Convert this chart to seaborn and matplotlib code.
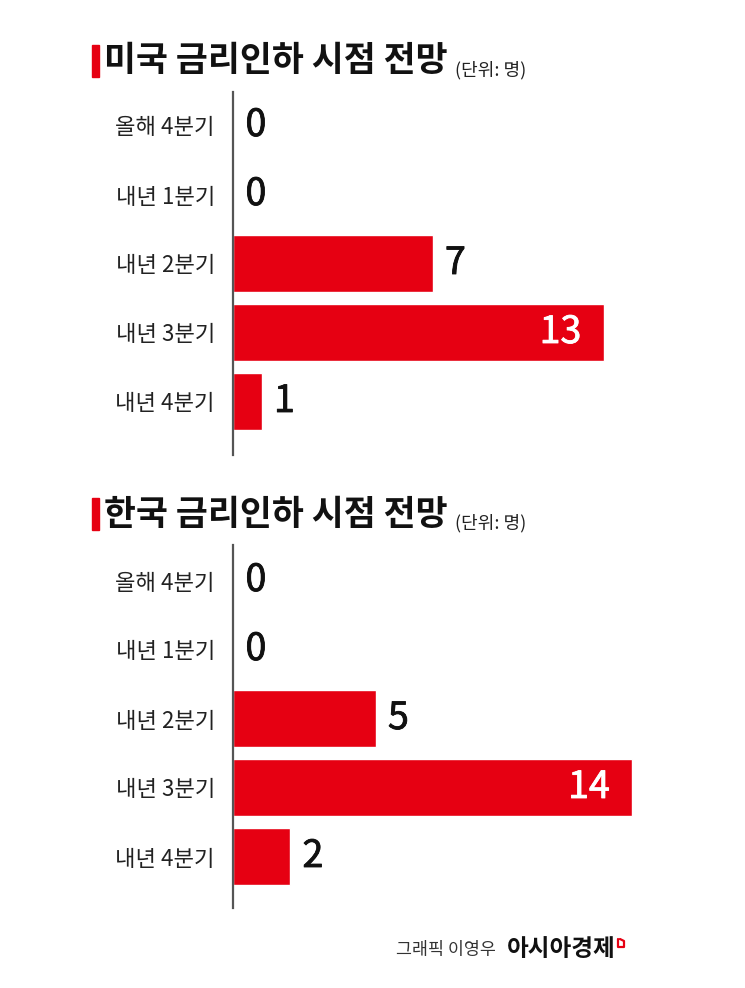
import matplotlib.pyplot as plt
import matplotlib.patheffects as pe
import pandas as pd
import seaborn as sns
from matplotlib.patches import Rectangle
from matplotlib.lines import Line2D

# ==========================================
# DATA (read off the reference graphic)
# ==========================================
categories = ['올해 4분기', '내년 1분기', '내년 2분기', '내년 3분기', '내년 4분기']
us_counts = [0, 0, 7, 13, 1]
kr_counts = [0, 0, 5, 14, 2]
panel_titles = ['미국 금리인하 시점 전망', '한국 금리인하 시점 전망']
unit_label = '(단위: 명)'
credit_label = '그래픽 이영우'
brand_label = '아시아경제'

RED = '#e60012'
W, H = 745, 988          # output size in pixels
UNIT_PX = 28.5           # pixels per person on the x axis
ROW_PX = 69              # pixels between bar rows
X_MAX = 16

sns.set_theme(style='white')
plt.rcParams['font.family'] = ['Noto Sans CJK KR', 'DejaVu Sans']


def fx(x):
    return x / W


def fy(y):
    return 1 - y / H


fig = plt.figure(figsize=(W / 100, H / 100), dpi=100)
fig.patch.set_facecolor('white')

# (values, title, axis top px, axis bottom px, first row centre px, title centre px)
panels = [
    (us_counts, panel_titles[0], 92, 455, 125.5, 61),
    (kr_counts, panel_titles[1], 545, 908, 580.5, 514),
]

for values, title, top, bottom, row0, title_y in panels:
    df = pd.DataFrame({'when': categories, 'count': values})
    ax = fig.add_axes([fx(233), fy(bottom), X_MAX * UNIT_PX / W, (bottom - top) / H])
    sns.barplot(data=df, x='count', y='when', color=RED, saturation=1,
                width=0.83, ax=ax)
    ax.set_xlim(0, X_MAX)
    ax.set_ylim((bottom - row0) / ROW_PX, (top - row0) / ROW_PX)
    ax.set_xlabel('')
    ax.set_ylabel('')
    ax.set_xticks([])
    ax.set_facecolor('none')
    for side in ['top', 'right', 'bottom']:
        ax.spines[side].set_visible(False)
    ax.spines['left'].set_color('#555555')
    ax.spines['left'].set_linewidth(1.6)
    ax.tick_params(axis='y', length=0, pad=13, labelsize=16, labelcolor='#222222')

    for i, v in enumerate(values):
        inside = v >= 10
        col = 'white' if inside else '#111111'
        ax.annotate(str(v), (v, i), xytext=(-16 if inside else 9, 0),
                    textcoords='offset points', ha='right' if inside else 'left',
                    va='center', fontsize=27, color=col,
                    path_effects=[pe.Stroke(linewidth=0.6, foreground=col), pe.Normal()])

    # title with red marker
    fig.patches.append(Rectangle((fx(92), fy(title_y + 16)), 7 / W, 32 / H,
                                 transform=fig.transFigure, color=RED))
    fig.text(fx(104), fy(title_y), title, ha='left', va='center',
             fontsize=25, fontweight='bold', color='#111111')
    fig.text(fx(455), fy(title_y + 9), unit_label, ha='left', va='center',
             fontsize=13, color='#222222')

# footer
fig.text(fx(496), fy(950), credit_label, ha='right', va='center',
         fontsize=12.5, color='#333333')
fig.text(fx(507), fy(949), brand_label, ha='left', va='center',
         fontsize=17, fontweight='bold', color='#111111')
fig.lines.append(Line2D([fx(618), fx(618), fx(624), fx(624), fx(620)],
                        [fy(939), fy(947), fy(947), fy(941), fy(939)],
                        transform=fig.transFigure, color=RED, linewidth=1.6))

fig.savefig('out.png', dpi=100)
